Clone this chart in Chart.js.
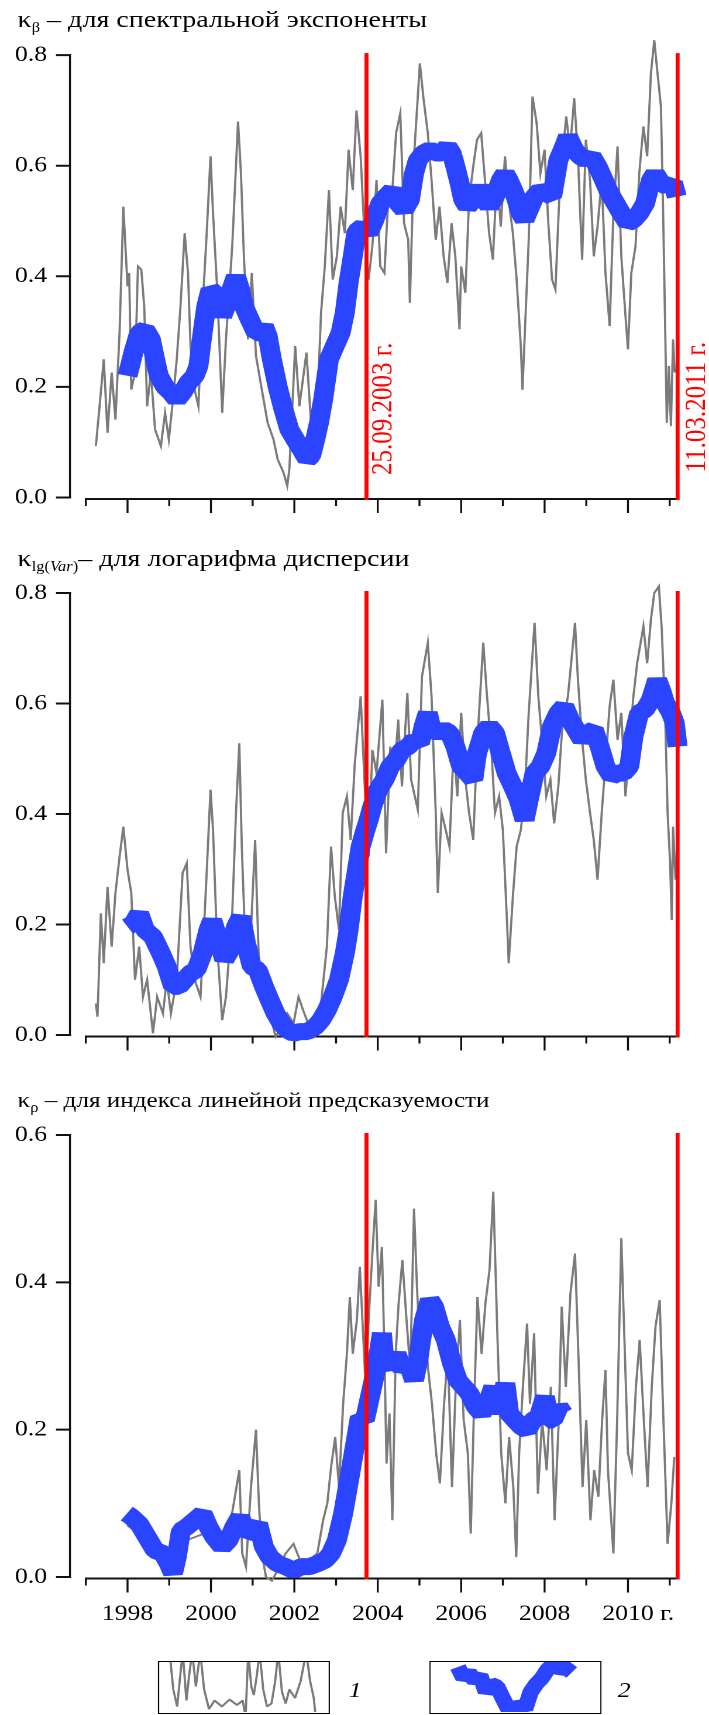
<!DOCTYPE html>
<html lang="ru">
<head>
<meta charset="utf-8">
<title>κ – индикаторы</title>
<script src="https://cdn.jsdelivr.net/npm/chart.js@4.4.1/dist/chart.umd.min.js"></script>
<style>
  html, body { margin: 0; padding: 0; background: #fff; overflow: hidden; }
  /* the figure is drawn 606px wide and stretched to 709px, like the scanned original */
  #page { position: relative; width: 606px; height: 1715px; transform: scaleX(1.17); transform-origin: 0 0;
          font-family: 'Liberation Serif', 'Times New Roman', serif; color: #000; }
  .panel { position: absolute; left: 0; }
  .title { position: absolute; left: 15px; font-size: 24px; line-height: 22px; white-space: nowrap; }
  .title sub { font-size: 14px; line-height: 0; vertical-align: -5px; }
  .legend-box { position: absolute; border: 1.5px solid #000; box-sizing: border-box; overflow: hidden; background: #fff; }
  .legend-box canvas { position: absolute; left: 0; top: 0; }
  .legend-num { position: absolute; font-style: italic; font-size: 22px; line-height: 22px; }
</style>
</head>
<body>
<div id="page">
  <canvas id="c1" class="panel" width="606" height="530" style="top:0px;width:606px;height:530px"></canvas>
  <canvas id="c2" class="panel" width="606" height="530" style="top:540px;width:606px;height:530px"></canvas>
  <canvas id="c3" class="panel" width="606" height="545" style="top:1090px;width:606px;height:545px"></canvas>

  <div class="title" style="top:8px">κ<sub>β</sub> – для спектральной экспоненты</div>
  <div class="title" style="top:547px">κ<sub>lg(<i>Var</i>)</sub>– для логарифма дисперсии</div>
  <div class="title" style="top:1089px;font-size:21.5px">κ<sub>ρ</sub> – для индекса линейной предсказуемости</div>

  <div class="legend-box" style="left:135px;top:1661px;width:147px;height:53px">
    <canvas id="lg1" width="144" height="50" style="width:144px;height:50px"></canvas>
  </div>
  <div class="legend-num" style="left:298px;top:1679px">1</div>
  <div class="legend-box" style="left:367px;top:1661px;width:147px;height:53px">
    <canvas id="lg2" width="144" height="50" style="width:144px;height:50px"></canvas>
  </div>
  <div class="legend-num" style="left:528px;top:1679px">2</div>
</div>

<script>
// ---- axis data ----
const xYears = [1997, 1998, 1999, 2000, 2001, 2002, 2003, 2004, 2005, 2006, 2007, 2008, 2009, 2010, 2011];
const xLabelYears = [1998, 2000, 2002, 2004, 2006, 2008, 2010];
const yearSuffix = 'г.';
const yTicksWide = [0, 0.2, 0.4, 0.6, 0.8];
const yTicksRho = [0, 0.2, 0.4, 0.6];
const eventYears = [2003.73, 2011.19];
const eventLabels = ['25.09.2003 г.', '11.03.2011 г.'];

// ---- κβ (spectral exponent) ----
const betaGrayT = [1997.24, 1997.33, 1997.43, 1997.52, 1997.62, 1997.71, 1997.81, 1997.90, 1997.95, 1998.00,
  1998.04, 1998.09, 1998.18, 1998.25, 1998.33, 1998.40, 1998.47, 1998.56, 1998.66, 1998.80,
  1998.90, 1998.99, 1999.09, 1999.18, 1999.27, 1999.37, 1999.45, 1999.51, 1999.61, 1999.70,
  1999.80, 1999.89, 1999.99, 2000.05, 2000.15, 2000.27, 2000.36, 2000.51, 2000.65, 2000.72,
  2000.79, 2000.89, 2000.98, 2001.08, 2001.22, 2001.36, 2001.50, 2001.60, 2001.74, 2001.83,
  2001.88, 2002.02, 2002.12, 2002.29, 2002.40, 2002.55, 2002.64, 2002.73, 2002.83, 2002.92,
  2003.02, 2003.11, 2003.21, 2003.30, 2003.40, 2003.49, 2003.59, 2003.68, 2003.78, 2003.87,
  2003.97, 2004.06, 2004.16, 2004.25, 2004.35, 2004.44, 2004.54, 2004.63, 2004.73, 2004.77,
  2004.87, 2005.01, 2005.10, 2005.20, 2005.29, 2005.39, 2005.48, 2005.58, 2005.67, 2005.77,
  2005.86, 2005.96, 2006.00, 2006.10, 2006.19, 2006.29, 2006.38, 2006.48, 2006.57, 2006.67,
  2006.76, 2006.86, 2006.95, 2007.05, 2007.14, 2007.24, 2007.33, 2007.43, 2007.47, 2007.52,
  2007.62, 2007.71, 2007.81, 2007.90, 2008.00, 2008.09, 2008.18, 2008.26, 2008.37, 2008.52,
  2008.61, 2008.71, 2008.80, 2008.90, 2008.99, 2009.09, 2009.18, 2009.27, 2009.37, 2009.46,
  2009.56, 2009.65, 2009.75, 2009.84, 2009.94, 2010.00, 2010.08, 2010.18, 2010.27, 2010.37,
  2010.46, 2010.55, 2010.63, 2010.70, 2010.79, 2010.84, 2010.89, 2010.93, 2010.98, 2011.03,
  2011.08, 2011.12];
const betaGrayK = [0.093, 0.165, 0.25, 0.117, 0.226, 0.141, 0.30, 0.526, 0.454, 0.382,
  0.406, 0.195, 0.226, 0.418, 0.412, 0.346, 0.165, 0.226, 0.123, 0.093,
  0.153, 0.105, 0.177, 0.25, 0.346, 0.478, 0.406, 0.274, 0.195, 0.165,
  0.346, 0.466, 0.617, 0.514, 0.376, 0.153, 0.286, 0.454, 0.68, 0.586,
  0.436, 0.286, 0.406, 0.256, 0.195, 0.135, 0.105, 0.069, 0.045, 0.021,
  0.051, 0.274, 0.165, 0.262, 0.135, 0.165, 0.334, 0.418, 0.556, 0.394,
  0.436, 0.526, 0.478, 0.629, 0.556, 0.70, 0.617, 0.478, 0.394, 0.454,
  0.574, 0.418, 0.406, 0.538, 0.556, 0.659, 0.695, 0.496, 0.466, 0.352,
  0.617, 0.785, 0.719, 0.659, 0.574, 0.466, 0.526, 0.436, 0.388, 0.496,
  0.436, 0.304, 0.418, 0.370, 0.538, 0.599, 0.647, 0.659, 0.574, 0.478,
  0.430, 0.586, 0.490, 0.617, 0.538, 0.478, 0.394, 0.274, 0.195, 0.286,
  0.466, 0.725, 0.677, 0.586, 0.629, 0.496, 0.394, 0.376, 0.574, 0.689,
  0.629, 0.722, 0.617, 0.430, 0.647, 0.574, 0.436, 0.490, 0.574, 0.406,
  0.310, 0.514, 0.635, 0.436, 0.328, 0.268, 0.406, 0.454, 0.586, 0.671,
  0.617, 0.767, 0.827, 0.773, 0.707, 0.526, 0.316, 0.135, 0.238, 0.129,
  0.286, 0.226];
const betaBlueT = [1998.00, 1998.14, 1998.28, 1998.42, 1998.56, 1998.66, 1998.75, 1998.90, 1999.04, 1999.18,
  1999.32, 1999.46, 1999.61, 1999.70, 1999.80, 1999.89, 1999.99, 2000.08, 2000.18, 2000.27,
  2000.36, 2000.46, 2000.60, 2000.70, 2000.79, 2000.93, 2001.08, 2001.17, 2001.27, 2001.36,
  2001.46, 2001.60, 2001.74, 2001.88, 2002.02, 2002.17, 2002.31, 2002.40, 2002.50, 2002.59,
  2002.69, 2002.83, 2002.97, 2003.11, 2003.21, 2003.30, 2003.40, 2003.49, 2003.64, 2003.78,
  2003.92, 2004.06, 2004.20, 2004.35, 2004.49, 2004.63, 2004.77, 2004.87, 2004.96, 2005.10,
  2005.25, 2005.39, 2005.53, 2005.67, 2005.77, 2005.86, 2005.96, 2006.05, 2006.15, 2006.29,
  2006.43, 2006.53, 2006.67, 2006.81, 2006.95, 2007.05, 2007.14, 2007.28, 2007.43, 2007.52,
  2007.62, 2007.76, 2007.90, 2008.04, 2008.18, 2008.33, 2008.47, 2008.56, 2008.71, 2008.85,
  2008.99, 2009.13, 2009.27, 2009.42, 2009.56, 2009.70, 2009.84, 2009.99, 2010.13, 2010.27,
  2010.41, 2010.55, 2010.65, 2010.79, 2010.93, 2011.08, 2011.17];
const betaBlueK = [0.22, 0.262, 0.298, 0.304, 0.286, 0.25, 0.22, 0.20, 0.19, 0.177,
  0.19, 0.208, 0.22, 0.238, 0.298, 0.346, 0.376, 0.370, 0.352, 0.328,
  0.346, 0.370, 0.40, 0.376, 0.346, 0.322, 0.298, 0.298, 0.310, 0.292,
  0.25, 0.20, 0.159, 0.123, 0.105, 0.087, 0.069, 0.075, 0.105, 0.135,
  0.177, 0.25, 0.274, 0.298, 0.334, 0.388, 0.436, 0.481, 0.490, 0.478,
  0.502, 0.532, 0.544, 0.556, 0.532, 0.520, 0.538, 0.586, 0.61, 0.623,
  0.629, 0.623, 0.623, 0.635, 0.623, 0.599, 0.569, 0.538, 0.526, 0.538,
  0.562, 0.544, 0.526, 0.544, 0.574, 0.586, 0.574, 0.550, 0.514, 0.502,
  0.520, 0.544, 0.556, 0.550, 0.544, 0.61, 0.635, 0.653, 0.629, 0.617,
  0.61, 0.617, 0.599, 0.574, 0.550, 0.532, 0.514, 0.496, 0.502, 0.514,
  0.532, 0.574, 0.586, 0.569, 0.562, 0.569, 0.544];

// ---- κlg(Var) (log variance) ----
const varGrayT = [1997.24, 1997.28, 1997.36, 1997.43, 1997.52, 1997.62, 1997.71, 1997.81, 1997.90, 1998.00,
  1998.09, 1998.18, 1998.28, 1998.37, 1998.47, 1998.61, 1998.71, 1998.85, 1998.94, 1999.04,
  1999.18, 1999.32, 1999.42, 1999.51, 1999.61, 1999.75, 1999.89, 1999.99, 2000.05, 2000.15,
  2000.27, 2000.36, 2000.51, 2000.60, 2000.68, 2000.74, 2000.84, 2000.96, 2001.06, 2001.15,
  2001.27, 2001.41, 2001.55, 2001.69, 2001.83, 2001.98, 2002.10, 2002.21, 2002.36, 2002.50,
  2002.64, 2002.78, 2002.88, 2002.97, 2003.07, 2003.16, 2003.26, 2003.35, 2003.45, 2003.59,
  2003.68, 2003.78, 2003.87, 2003.97, 2004.11, 2004.20, 2004.30, 2004.39, 2004.49, 2004.58,
  2004.71, 2004.80, 2004.96, 2005.06, 2005.20, 2005.29, 2005.39, 2005.44, 2005.53, 2005.63,
  2005.72, 2005.82, 2005.91, 2006.00, 2006.10, 2006.19, 2006.29, 2006.38, 2006.53, 2006.62,
  2006.72, 2006.81, 2006.91, 2007.00, 2007.09, 2007.14, 2007.24, 2007.33, 2007.43, 2007.52,
  2007.62, 2007.76, 2007.85, 2007.95, 2008.04, 2008.14, 2008.23, 2008.33, 2008.42, 2008.56,
  2008.73, 2008.80, 2008.90, 2008.99, 2009.09, 2009.18, 2009.27, 2009.37, 2009.46, 2009.56,
  2009.65, 2009.75, 2009.84, 2009.94, 2010.03, 2010.13, 2010.22, 2010.37, 2010.46, 2010.55,
  2010.63, 2010.74, 2010.81, 2010.89, 2010.95, 2011.01, 2011.05, 2011.08, 2011.14];
const varGrayK = [0.057, 0.033, 0.22, 0.13, 0.268, 0.16, 0.257, 0.323, 0.377, 0.299,
  0.257, 0.10, 0.16, 0.069, 0.10, 0.003, 0.069, 0.039, 0.10, 0.039,
  0.10, 0.293, 0.311, 0.16, 0.10, 0.069, 0.281, 0.444, 0.371, 0.16,
  0.027, 0.069, 0.22, 0.402, 0.528, 0.341, 0.13, 0.19, 0.353, 0.13,
  0.069, 0.039, -0.003, 0.015, 0.039, 0.021, 0.069, 0.045, 0.015, 0.039,
  0.057, 0.16, 0.341, 0.251, 0.19, 0.402, 0.432, 0.353, 0.492, 0.613,
  0.462, 0.323, 0.516, 0.474, 0.607, 0.329, 0.522, 0.462, 0.571, 0.45,
  0.619, 0.462, 0.408, 0.649, 0.71, 0.613, 0.402, 0.257, 0.402, 0.371,
  0.341, 0.522, 0.432, 0.583, 0.462, 0.402, 0.353, 0.522, 0.71, 0.613,
  0.522, 0.402, 0.432, 0.371, 0.22, 0.13, 0.251, 0.341, 0.371, 0.432,
  0.583, 0.746, 0.613, 0.522, 0.432, 0.462, 0.383, 0.45, 0.553, 0.613,
  0.746, 0.643, 0.534, 0.462, 0.402, 0.353, 0.281, 0.402, 0.492, 0.595,
  0.643, 0.534, 0.583, 0.432, 0.522, 0.613, 0.673, 0.74, 0.673, 0.752,
  0.80, 0.812, 0.734, 0.583, 0.402, 0.311, 0.208, 0.377, 0.281];
const varBlueT = [1998.00, 1998.14, 1998.28, 1998.42, 1998.61, 1998.80, 1998.94, 1999.09, 1999.23, 1999.37,
  1999.51, 1999.65, 1999.80, 1999.94, 2000.03, 2000.18, 2000.32, 2000.46, 2000.60, 2000.72,
  2000.84, 2000.98, 2001.12, 2001.27, 2001.41, 2001.55, 2001.69, 2001.83, 2001.98, 2002.12,
  2002.31, 2002.50, 2002.64, 2002.78, 2002.92, 2003.07, 2003.21, 2003.30, 2003.40, 2003.49,
  2003.59, 2003.68, 2003.78, 2003.87, 2004.01, 2004.16, 2004.30, 2004.44, 2004.58, 2004.73,
  2004.87, 2005.01, 2005.10, 2005.20, 2005.29, 2005.44, 2005.58, 2005.72, 2005.86, 2006.00,
  2006.15, 2006.29, 2006.38, 2006.53, 2006.67, 2006.81, 2006.95, 2007.09, 2007.24, 2007.38,
  2007.52, 2007.62, 2007.76, 2007.90, 2008.04, 2008.18, 2008.33, 2008.47, 2008.61, 2008.75,
  2008.90, 2009.04, 2009.18, 2009.32, 2009.46, 2009.61, 2009.75, 2009.89, 2010.03, 2010.13,
  2010.27, 2010.41, 2010.55, 2010.70, 2010.79, 2010.89, 2011.03, 2011.12, 2011.19];
const varBlueK = [0.196, 0.202, 0.22, 0.19, 0.178, 0.148, 0.124, 0.088, 0.088, 0.10,
  0.112, 0.118, 0.148, 0.19, 0.208, 0.172, 0.136, 0.154, 0.196, 0.214,
  0.166, 0.124, 0.118, 0.088, 0.063, 0.039, 0.021, 0.009, 0.003, 0.006,
  0.006, 0.015, 0.027, 0.045, 0.069, 0.10, 0.148, 0.19, 0.251, 0.293,
  0.341, 0.365, 0.389, 0.414, 0.444, 0.462, 0.486, 0.498, 0.516, 0.522,
  0.534, 0.528, 0.559, 0.583, 0.553, 0.547, 0.553, 0.547, 0.522, 0.486,
  0.474, 0.462, 0.510, 0.547, 0.559, 0.547, 0.510, 0.474, 0.45, 0.426,
  0.389, 0.426, 0.474, 0.486, 0.510, 0.559, 0.583, 0.595, 0.571, 0.553,
  0.534, 0.547, 0.553, 0.522, 0.486, 0.468, 0.474, 0.474, 0.486, 0.540,
  0.583, 0.589, 0.607, 0.643, 0.625, 0.601, 0.583, 0.565, 0.522];

// ---- κρ (linear predictability index) ----
const rhoGrayT = [1998.00, 1998.47, 1999.04, 1999.42, 1999.89, 2000.37, 2000.68, 2000.75, 2000.84, 2000.96,
  2001.08, 2001.15, 2001.22, 2001.32, 2001.46, 2001.60, 2001.79, 2001.98, 2002.17, 2002.36,
  2002.55, 2002.69, 2002.79, 2002.88, 2002.98, 2003.07, 2003.17, 2003.26, 2003.33, 2003.40,
  2003.50, 2003.57, 2003.64, 2003.71, 2003.78, 2003.88, 2003.95, 2004.02, 2004.10, 2004.16,
  2004.21, 2004.28, 2004.35, 2004.43, 2004.50, 2004.59, 2004.69, 2004.78, 2004.87, 2004.94,
  2005.02, 2005.11, 2005.21, 2005.30, 2005.40, 2005.49, 2005.59, 2005.68, 2005.78, 2005.87,
  2005.97, 2006.06, 2006.16, 2006.23, 2006.30, 2006.39, 2006.49, 2006.58, 2006.68, 2006.77,
  2006.87, 2006.96, 2007.06, 2007.15, 2007.25, 2007.32, 2007.39, 2007.48, 2007.58, 2007.65,
  2007.75, 2007.84, 2007.94, 2008.05, 2008.15, 2008.24, 2008.34, 2008.41, 2008.51, 2008.62,
  2008.73, 2008.81, 2008.91, 2009.00, 2009.10, 2009.19, 2009.29, 2009.38, 2009.46, 2009.52,
  2009.65, 2009.74, 2009.84, 2009.90, 2010.00, 2010.09, 2010.19, 2010.28, 2010.38, 2010.47,
  2010.57, 2010.66, 2010.76, 2010.85, 2010.95, 2011.04, 2011.11];
const rhoGrayK = [0.07, 0.05, 0.01, 0.05, 0.06, 0.04, 0.145, 0.032, 0.014, 0.122,
  0.20, 0.10, 0.032, 0.0, -0.005, 0.009, 0.032, 0.045, 0.018, 0.023,
  0.032, 0.077, 0.10, 0.149, 0.19, 0.122, 0.235, 0.303, 0.38, 0.303,
  0.349, 0.421, 0.34, 0.258, 0.349, 0.448, 0.512, 0.394, 0.448, 0.303,
  0.154, 0.222, 0.077, 0.303, 0.371, 0.43, 0.349, 0.281, 0.50, 0.394,
  0.303, 0.349, 0.281, 0.235, 0.168, 0.127, 0.235, 0.303, 0.122, 0.258,
  0.349, 0.213, 0.168, 0.059, 0.213, 0.38, 0.303, 0.371, 0.417, 0.523,
  0.326, 0.168, 0.10, 0.19, 0.122, 0.027, 0.168, 0.258, 0.344, 0.235,
  0.331, 0.113, 0.213, 0.145, 0.258, 0.077, 0.213, 0.367, 0.258, 0.385,
  0.439, 0.303, 0.122, 0.213, 0.077, 0.145, 0.109, 0.213, 0.281, 0.145,
  0.032, 0.213, 0.46, 0.349, 0.168, 0.145, 0.258, 0.322, 0.213, 0.122,
  0.258, 0.34, 0.376, 0.213, 0.045, 0.10, 0.163];
const rhoBlueT = [1997.98, 1998.09, 1998.28, 1998.47, 1998.66, 1998.85, 1998.99, 1999.09, 1999.18, 1999.28,
  1999.42, 1999.61, 1999.80, 1999.94, 2000.08, 2000.27, 2000.42, 2000.56, 2000.70, 2000.84,
  2000.98, 2001.13, 2001.27, 2001.41, 2001.60, 2001.79, 2001.98, 2002.17, 2002.36, 2002.55,
  2002.74, 2002.88, 2003.02, 2003.17, 2003.31, 2003.45, 2003.57, 2003.69, 2003.83, 2003.97,
  2004.10, 2004.16, 2004.31, 2004.45, 2004.59, 2004.73, 2004.87, 2004.97, 2005.11, 2005.25,
  2005.35, 2005.49, 2005.63, 2005.78, 2005.92, 2006.06, 2006.20, 2006.35, 2006.49, 2006.63,
  2006.77, 2006.91, 2007.06, 2007.15, 2007.29, 2007.44, 2007.58, 2007.72, 2007.86, 2008.01,
  2008.10, 2008.20, 2008.34, 2008.45];
const rhoBlueK = [0.086, 0.082, 0.072, 0.054, 0.036, 0.032, 0.018, 0.005, 0.027, 0.063,
  0.068, 0.077, 0.086, 0.068, 0.054, 0.041, 0.05, 0.068, 0.082, 0.059,
  0.063, 0.072, 0.041, 0.027, 0.018, 0.014, 0.009, 0.014, 0.014, 0.018,
  0.023, 0.032, 0.05, 0.086, 0.131, 0.177, 0.217, 0.213, 0.249, 0.285,
  0.331, 0.294, 0.285, 0.303, 0.281, 0.29, 0.267, 0.294, 0.349, 0.376,
  0.367, 0.34, 0.322, 0.29, 0.267, 0.258, 0.249, 0.231, 0.222, 0.235,
  0.258, 0.222, 0.263, 0.222, 0.213, 0.204, 0.199, 0.213, 0.217, 0.245,
  0.213, 0.213, 0.231, 0.222];

// ---- legend swatches (fraction of the box width / height) ----
const legendGrayT = [0.062, 0.084, 0.107, 0.122, 0.14, 0.162, 0.178, 0.196, 0.218, 0.244, 0.267, 0.296, 0.329,
  0.373, 0.418, 0.462, 0.496, 0.513, 0.529, 0.547, 0.562, 0.58, 0.596, 0.618, 0.64, 0.667, 0.689,
  0.707, 0.729, 0.751, 0.773, 0.807, 0.84, 0.873, 0.896, 0.918, 0.929];
const legendGrayK = [1.2, 0.45, 0.11, 0.62, 1.2, 0.23, 0.73, 1.2, 0.51, 1.2, 0.45, 0.06, 0.23,
  0.11, 0.25, 0.14, 0.23, -0.1, 1.2, 0.51, 0.34, 0.73, 1.2, 0.45, 0.11, 0.17, 0.62,
  1.2, 0.40, 0.17, 0.45, 0.28, 0.62, 1.2, 0.62, 0.28, -0.1];
const legendBlueT = [0.162, 0.195, 0.228, 0.262, 0.295, 0.328, 0.361, 0.395, 0.428, 0.461, 0.494,
  0.528, 0.561, 0.594, 0.627, 0.661, 0.694, 0.727, 0.761, 0.794, 0.838];
const legendBlueK = [0.90, 0.68, 0.79, 0.62, 0.73, 0.40, 0.56, 0.51, 0.28, 0.06, -0.05,
  0.17, 0.06, 0.40, 0.56, 0.68, 0.85, 0.96, 0.85, 0.90, 0.79];

// ---- look ----
const GRAY = '#7b7b7b';
const BLUE = '#2a44ff';
const RED = '#ff0000';
const FONT = "'Liberation Serif', 'Times New Roman', serif";
Chart.defaults.font.family = FONT;
Chart.defaults.color = '#000';

// where each panel sits on the page (px, before the horizontal stretch)
const LAYOUT = [
  { id: 'c1', top: 0,    height: 530, zeroY: 497.5, unit: 553,   min: -0.04, max: 0.86 },
  { id: 'c2', top: 540,  height: 530, zeroY: 1035,  unit: 552.5, min: -0.04, max: 0.86 },
  { id: 'c3', top: 1090, height: 545, zeroY: 1577,  unit: 736.7, min: -0.03, max: 0.63 }
];
const AXIS_LEFT = 59.8;   // y axis x position
const PLOT_RIGHT = 15.8;  // space right of the plot
const X_MIN = 1996.62, X_MAX = 2011.5;
const X_TICK_PAD = 2;

function pts(t, k) { return t.map((v, i) => ({ x: v, y: k[i] })); }

const paperAxes = {
  id: 'paperAxes',
  beforeDatasetsDraw(chart, args, o) {
    const { ctx, chartArea } = chart;
    const xs = chart.scales.x, ys = chart.scales.y;
    const left = chartArea.left;
    const y0 = ys.getPixelForValue(0);
    const yTop = ys.getPixelForValue(o.yTicks[o.yTicks.length - 1]);
    const axisY = y0 + 1.5;
    ctx.save();
    ctx.strokeStyle = '#111';
    ctx.lineWidth = 1.7;
    ctx.beginPath();
    ctx.moveTo(left, yTop - 1);
    ctx.lineTo(left, y0 + 1);
    ctx.stroke();
    ctx.lineWidth = 2;
    ctx.beginPath();
    o.yTicks.forEach(v => {
      const p = ys.getPixelForValue(v);
      ctx.moveTo(left - 12, p);
      ctx.lineTo(left + 0.85, p);
    });
    ctx.moveTo(xs.getPixelForValue(xYears[0]) - 0.85, axisY);
    ctx.lineTo(xs.getPixelForValue(eventYears[1]), axisY);
    ctx.stroke();
    ctx.lineWidth = 1.7;
    ctx.beginPath();
    xYears.forEach(yr => {
      const p = xs.getPixelForValue(yr);
      ctx.moveTo(p, axisY);
      ctx.lineTo(p, axisY + (yr % 2 === 0 ? 14 : 7));
    });
    ctx.stroke();
    ctx.restore();
  },
  afterDatasetsDraw(chart, args, o) {
    const { ctx } = chart;
    const xs = chart.scales.x, ys = chart.scales.y;
    const y0 = ys.getPixelForValue(0);
    const yTop = ys.getPixelForValue(o.yTicks[o.yTicks.length - 1]);
    ctx.save();
    ctx.strokeStyle = RED;
    ctx.lineWidth = 3.4;
    ctx.beginPath();
    eventYears.forEach(yr => {
      const p = xs.getPixelForValue(yr);
      ctx.moveTo(p, yTop - 2);
      ctx.lineTo(p, y0 + 2.5);
    });
    ctx.stroke();
    if (o.eventText) {
      ctx.fillStyle = RED;
      ctx.font = '25px ' + FONT;
      ctx.textAlign = 'left';
      ctx.textBaseline = 'alphabetic';
      const dx = [21.4, 23.5], dy = [22.5, 25];
      eventYears.forEach((yr, i) => {
        ctx.save();
        ctx.translate(xs.getPixelForValue(yr) + dx[i], y0 - dy[i]);
        ctx.rotate(-Math.PI / 2);
        ctx.fillText(eventLabels[i], 0, 0);
        ctx.restore();
      });
    }
    ctx.restore();
  },
  afterDraw(chart, args, o) {
    if (!o.suffix) return;
    const { ctx } = chart;
    const xs = chart.scales.x;
    const last = xLabelYears[xLabelYears.length - 1];
    ctx.save();
    ctx.font = '22px ' + FONT;
    ctx.fillStyle = '#000';
    ctx.textAlign = 'left';
    ctx.textBaseline = 'middle';
    const w = ctx.measureText(String(last)).width;
    ctx.fillText(' ' + yearSuffix, xs.getPixelForValue(last) + w / 2, xs.top + X_TICK_PAD + 13.2);
    ctx.restore();
  }
};

function makePanel(L, gray, blue, yTicks, showYears, eventText) {
  const padTop = L.zeroY - L.max * L.unit - L.top;
  const areaBottom = L.zeroY - L.min * L.unit - L.top;
  const xHeight = L.height - areaBottom;
  return new Chart(document.getElementById(L.id), {
    type: 'line',
    data: {
      datasets: [
        { data: blue, borderColor: BLUE, borderWidth: 17, pointRadius: 0, borderJoinStyle: 'bevel', clip: false },
        { data: gray, borderColor: GRAY, borderWidth: 1.9, pointRadius: 0, clip: false }
      ]
    },
    options: {
      responsive: false,
      devicePixelRatio: 2,
      animation: false,
      events: [],
      layout: { padding: { top: padTop, right: PLOT_RIGHT, left: 0, bottom: 0 } },
      plugins: {
        legend: { display: false },
        tooltip: { enabled: false },
        paperAxes: { yTicks, suffix: showYears, eventText }
      },
      scales: {
        x: {
          type: 'linear', min: X_MIN, max: X_MAX,
          grid: { display: false, drawTicks: false },
          border: { display: false },
          afterBuildTicks: s => { s.ticks = xYears.map(v => ({ value: v })); },
          afterFit: s => { s.height = xHeight; s.paddingLeft = s.paddingRight = s.paddingTop = s.paddingBottom = 0; },
          ticks: {
            display: showYears, autoSkip: false, maxRotation: 0, minRotation: 0, padding: X_TICK_PAD,
            font: { size: 22 }, color: '#000',
            callback: v => xLabelYears.includes(v) ? String(v) : ''
          }
        },
        y: {
          type: 'linear', min: L.min, max: L.max,
          grid: { display: false, drawTicks: false },
          border: { display: false },
          afterBuildTicks: s => { s.ticks = yTicks.map(v => ({ value: v })); },
          afterFit: s => { s.width = AXIS_LEFT; s.paddingLeft = s.paddingRight = s.paddingTop = s.paddingBottom = 0; },
          ticks: { padding: 19.6, font: { size: 22 }, color: '#000', callback: v => v.toFixed(1) }
        }
      }
    },
    plugins: [paperAxes]
  });
}

makePanel(LAYOUT[0], pts(betaGrayT, betaGrayK), pts(betaBlueT, betaBlueK), yTicksWide, false, true);
makePanel(LAYOUT[1], pts(varGrayT, varGrayK), pts(varBlueT, varBlueK), yTicksWide, false, false);
makePanel(LAYOUT[2], pts(rhoGrayT, rhoGrayK), pts(rhoBlueT, rhoBlueK), yTicksRho, true, false);

function makeSwatch(id, data, color, width) {
  return new Chart(document.getElementById(id), {
    type: 'line',
    data: { datasets: [{ data, borderColor: color, borderWidth: width, pointRadius: 0, clip: 0, borderJoinStyle: 'bevel' }] },
    options: {
      responsive: false, devicePixelRatio: 2, animation: false, events: [],
      layout: { padding: 0 },
      plugins: { legend: { display: false }, tooltip: { enabled: false } },
      scales: {
        x: { type: 'linear', min: 0, max: 1, display: false },
        y: { type: 'linear', min: 0, max: 1, display: false }
      }
    }
  });
}
makeSwatch('lg1', pts(legendGrayT, legendGrayK), GRAY, 1.9);
makeSwatch('lg2', pts(legendBlueT, legendBlueK), BLUE, 14);
</script>
</body>
</html>
